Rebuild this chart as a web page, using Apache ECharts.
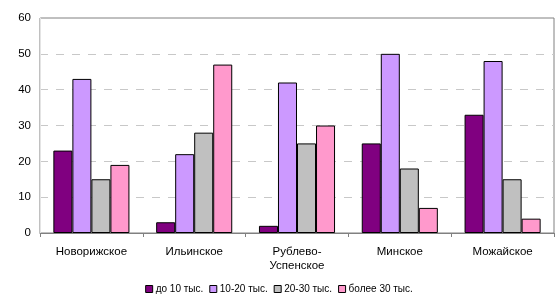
<!DOCTYPE html>
<html><head><meta charset="utf-8">
<script src="https://cdn.jsdelivr.net/npm/echarts@6/dist/echarts.min.js"></script>
<style>html,body{margin:0;padding:0;background:#fff}#c{width:558px;height:302px}</style>
</head><body><div id="c"></div>
<script>
const categories = ['Новорижское', 'Ильинское', 'Рублево-\nУспенское', 'Минское', 'Можайское'];
const seriesNames = ['до 10 тыс.', '10-20 тыс.', '20-30 тыс.', 'более 30 тыс.'];
const s1 = [23, 3, 2, 25, 33];
const s2 = [43, 22, 42, 50, 48];
const s3 = [15, 28, 25, 18, 15];
const s4 = [19, 47, 30, 7, 4];
const colors = ['#800080', '#CC99FF', '#C0C0C0', '#FF99CC'];
const data = [s1, s2, s3, s4];

const chart = echarts.init(document.getElementById('c'), null, {renderer: 'canvas'});
chart.setOption({
  animation: false,
  textStyle: {fontFamily: 'Liberation Sans, Arial, sans-serif'},
  grid: {left: 40, right: 4, top: 18, bottom: 69, show: true, borderColor: '#808080', borderWidth: 1, backgroundColor: 'transparent'},
  legend: {
    bottom: 3, left: 'center', itemWidth: 7, itemHeight: 7, itemGap: 6,
    icon: 'rect',
    textStyle: {fontSize: 10, color: '#000', padding: [0,0,0,-2]},
    data: seriesNames.map((n, i) => ({name: n, itemStyle: {color: colors[i], borderColor: '#000', borderWidth: 1}}))
  },
  xAxis: {
    type: 'category', data: categories,
    axisLine: {lineStyle: {color: '#808080', width: 1}},
    axisTick: {show: true, length: 4, lineStyle: {color: '#808080'}},
    axisLabel: {fontSize: 11.5, color: '#000', margin: 12, lineHeight: 14, interval: 0}
  },
  yAxis: {
    type: 'value', min: 0, max: 60, interval: 10,
    axisLine: {show: true, lineStyle: {color: '#e4e4e4'}},
    axisTick: {show: false},
    axisLabel: {fontSize: 11.5, color: '#000', margin: 9},
    splitLine: {show: true, showMaxLine: false, lineStyle: {color: '#c8c8c8', type: [8, 8], width: 1}}
  },
  series: data.map((d, i) => ({
    name: seriesNames[i], type: 'bar', data: d,
    barGap: '0%', barCategoryGap: '26%',
    itemStyle: {color: colors[i], borderColor: '#000', borderWidth: 1}
  }))
});
</script></body></html>
